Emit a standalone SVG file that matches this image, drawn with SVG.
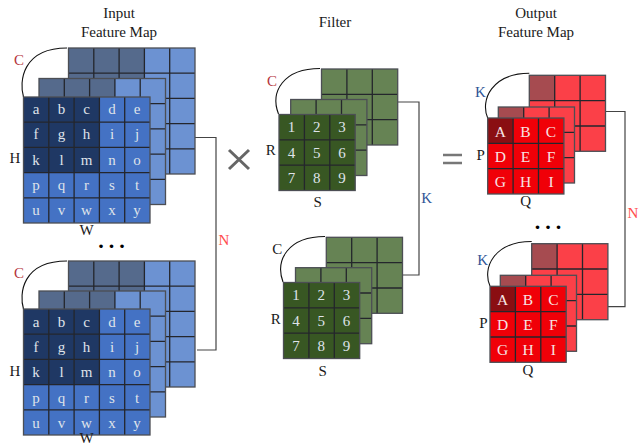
<svg xmlns="http://www.w3.org/2000/svg" xmlns:xlink="http://www.w3.org/1999/xlink" width="639" height="447" viewBox="0 0 639 447">
<style>
text{font-family:"Liberation Serif","Times New Roman",serif;font-size:15px;text-anchor:middle;fill:#1a1a1a}
.c{fill:#dfe3ea;font-size:15px}
.o{fill:#f6e4e4;font-size:15.500px}
.red{fill:#b5343c}.blue{fill:#2f5597}.n{fill:#ff4d4d}
.l{fill:none;stroke:#24262c;stroke-width:1.3}
.e{fill:none;stroke:#4c4e54;stroke-width:1.3}
.arc{fill:none;stroke:#111;stroke-width:1.1}
.w{fill:none;stroke:#444;stroke-width:1.2}
.dots{font-size:22px;font-weight:bold;fill:#000;letter-spacing:5px}
</style>
<defs>
<path id="g5" d="M25.300 0V126M50.600 0V126M75.900 0V126M101.200 0V126M0 25.200H126.500M0 50.400H126.500M0 75.600H126.500M0 100.800H126.500"/>
<path id="g3" d="M25.400 0V76M50.800 0V76M0 25.300H76.200M0 50.700H76.200"/>
<g id="inF"><rect width="126.500" height="126" fill="#4472c4"/><rect width="75.900" height="75.600" fill="#1f3864"/><use xlink:href="#g5" class="l"/><rect width="126.500" height="126" class="e"/></g>
<g id="inB"><rect width="126.500" height="126" fill="#6c92d2"/><rect width="75.900" height="75.600" fill="#556a8c"/><use xlink:href="#g5" class="l"/><rect width="126.500" height="126" class="e"/></g>
<g id="fF"><rect width="76.200" height="76" fill="#385723"/><use xlink:href="#g3" class="l"/><rect width="76.200" height="76" class="e"/></g>
<g id="fB"><rect width="76.200" height="76" fill="#668354"/><use xlink:href="#g3" class="l"/><rect width="76.200" height="76" class="e"/></g>
<g id="oF"><rect width="76.200" height="76" fill="#f00008"/><rect width="25.400" height="25.300" fill="#8a0e12"/><use xlink:href="#g3" class="l"/><rect width="76.200" height="76" class="e"/></g>
<g id="oB"><rect width="76.200" height="76" fill="#fb4048"/><rect width="25.400" height="25.300" fill="#a64b50"/><use xlink:href="#g3" class="l"/><rect width="76.200" height="76" class="e"/></g>
</defs>
<rect width="639" height="447" fill="#fff"/>
<g id="connectors">
<path class="w" d="M195 137.500H216V350H197"/>
<path class="w" d="M397.700 102H419V275H403"/>
<path class="w" d="M605.700 111.500H625V306.700H608"/>
<path class="arc" d="M23.500 97C19 82 22 48 67 48"/>
<path class="arc" d="M23.500 309C19 294 22 261 67 261"/>
<path class="arc" d="M278.500 114C270 92 283 68.500 320 68.500"/>
<path class="arc" d="M283 282C275 260 288 236.500 325 236.500"/>
<path class="arc" d="M487.700 118C480 100 492 73.300 529.300 73.300"/>
<path class="arc" d="M490 286C482 268 494 241.500 531.700 241.500"/>
</g>
<g id="titles">
<text x="119" y="18">Input</text><text x="119" y="37">Feature Map</text>
<text x="335" y="27">Filter</text>
<text x="536" y="18">Output</text><text x="536" y="37">Feature Map</text>
</g>
<g id="input-1">
<use xlink:href="#inB" x="68.500" y="48"/><use xlink:href="#inB" x="39" y="78.500"/><use xlink:href="#inF" x="23.500" y="97"/>
<text class="red" x="19" y="65">C</text><text x="15" y="163">H</text><text x="86.500" y="235">W</text>
<text class="c" x="36" y="114">a</text><text class="c" x="61.500" y="114">b</text><text class="c" x="86.500" y="114">c</text><text class="c" x="112" y="114">d</text><text class="c" x="137" y="114">e</text>
<text class="c" x="36" y="139">f</text><text class="c" x="61.500" y="139">g</text><text class="c" x="86.500" y="139">h</text><text class="c" x="112" y="139">i</text><text class="c" x="137" y="139">j</text>
<text class="c" x="36" y="165">k</text><text class="c" x="61.500" y="165">l</text><text class="c" x="86.500" y="165">m</text><text class="c" x="112" y="165">n</text><text class="c" x="137" y="165">o</text>
<text class="c" x="36" y="190">p</text><text class="c" x="61.500" y="190">q</text><text class="c" x="86.500" y="190">r</text><text class="c" x="112" y="190">s</text><text class="c" x="137" y="190">t</text>
<text class="c" x="36" y="215">u</text><text class="c" x="61.500" y="215">v</text><text class="c" x="86.500" y="215">w</text><text class="c" x="112" y="215">x</text><text class="c" x="137" y="215">y</text>
</g>
<g id="input-2">
<use xlink:href="#inB" x="68.500" y="261"/><use xlink:href="#inB" x="39" y="291"/><use xlink:href="#inF" x="23.500" y="309"/>
<text class="red" x="19" y="278">C</text><text x="15" y="376">H</text><text x="86.500" y="443">W</text>
<text class="c" x="36" y="327">a</text><text class="c" x="61.500" y="327">b</text><text class="c" x="86.500" y="327">c</text><text class="c" x="112" y="327">d</text><text class="c" x="137" y="327">e</text>
<text class="c" x="36" y="352">f</text><text class="c" x="61.500" y="352">g</text><text class="c" x="86.500" y="352">h</text><text class="c" x="112" y="352">i</text><text class="c" x="137" y="352">j</text>
<text class="c" x="36" y="377">k</text><text class="c" x="61.500" y="377">l</text><text class="c" x="86.500" y="377">m</text><text class="c" x="112" y="377">n</text><text class="c" x="137" y="377">o</text>
<text class="c" x="36" y="403">p</text><text class="c" x="61.500" y="403">q</text><text class="c" x="86.500" y="403">r</text><text class="c" x="112" y="403">s</text><text class="c" x="137" y="403">t</text>
<text class="c" x="36" y="428">u</text><text class="c" x="61.500" y="428">v</text><text class="c" x="86.500" y="428">w</text><text class="c" x="112" y="428">x</text><text class="c" x="137" y="428">y</text>
</g>
<g id="filter-1">
<use xlink:href="#fB" x="321.500" y="69"/><use xlink:href="#fB" x="290.700" y="99.500"/><use xlink:href="#fF" x="279" y="114.500"/>
<text class="red" x="272" y="86">C</text><text x="270.700" y="155">R</text><text x="317.700" y="207">S</text>
<text class="c" x="291.500" y="132">1</text><text class="c" x="316.800" y="132">2</text><text class="c" x="342" y="132">3</text>
<text class="c" x="291.500" y="158">4</text><text class="c" x="316.800" y="158">5</text><text class="c" x="342" y="158">6</text>
<text class="c" x="291.500" y="183">7</text><text class="c" x="316.800" y="183">8</text><text class="c" x="342" y="183">9</text>
</g>
<g id="filter-2">
<use xlink:href="#fB" x="326.300" y="237.300"/><use xlink:href="#fB" x="295.500" y="267.700"/><use xlink:href="#fF" x="283.500" y="282.500"/>
<text x="277.300" y="254">C</text><text x="275.700" y="324">R</text><text x="322.700" y="376">S</text>
<text class="c" x="296" y="300">1</text><text class="c" x="321.300" y="300">2</text><text class="c" x="346.500" y="300">3</text>
<text class="c" x="296" y="326">4</text><text class="c" x="321.300" y="326">5</text><text class="c" x="346.500" y="326">6</text>
<text class="c" x="296" y="351">7</text><text class="c" x="321.300" y="351">8</text><text class="c" x="346.500" y="351">9</text>
</g>
<g id="output-1">
<use xlink:href="#oB" x="529.300" y="75.300"/><use xlink:href="#oB" x="498.300" y="107"/><use xlink:href="#oF" x="487.700" y="118"/>
<text class="blue" x="480.300" y="97">K</text><text x="480.700" y="160">P</text><text x="525.700" y="206">Q</text>
<text class="o" x="500.300" y="136.500">A</text><text class="o" x="525.500" y="136.500">B</text><text class="o" x="551" y="136.500">C</text>
<text class="o" x="500.300" y="162">D</text><text class="o" x="525.500" y="162">E</text><text class="o" x="551" y="162">F</text>
<text class="o" x="500.300" y="187">G</text><text class="o" x="525.500" y="187">H</text><text class="o" x="551" y="187">I</text>
</g>
<g id="output-2">
<use xlink:href="#oB" x="531.700" y="243.700"/><use xlink:href="#oB" x="500.300" y="275.300"/><use xlink:href="#oF" x="490" y="286.300"/>
<text class="blue" x="482.700" y="265">K</text><text x="483.300" y="328">P</text><text x="528" y="375">Q</text>
<text class="o" x="502.700" y="305">A</text><text class="o" x="528" y="305">B</text><text class="o" x="553.300" y="305">C</text>
<text class="o" x="502.700" y="330">D</text><text class="o" x="528" y="330">E</text><text class="o" x="553.300" y="330">F</text>
<text class="o" x="502.700" y="355">G</text><text class="o" x="528" y="355">H</text><text class="o" x="553.300" y="355">I</text>
</g>
<g id="operators">
<path d="M229 150L249 169M249 150L229 169" fill="none" stroke="#666" stroke-width="3"/>
<path d="M443 155H462M443 163H462" fill="none" stroke="#777" stroke-width="2.500"/>
</g>
<g id="labels">
<text class="n" x="224" y="245">N</text>
<text class="blue" x="426.700" y="203">K</text>
<text class="n" x="633" y="218">N</text>
<text class="dots" x="114" y="247.500">...</text>
<text class="dots" x="550.500" y="229">...</text>
</g>
</svg>
